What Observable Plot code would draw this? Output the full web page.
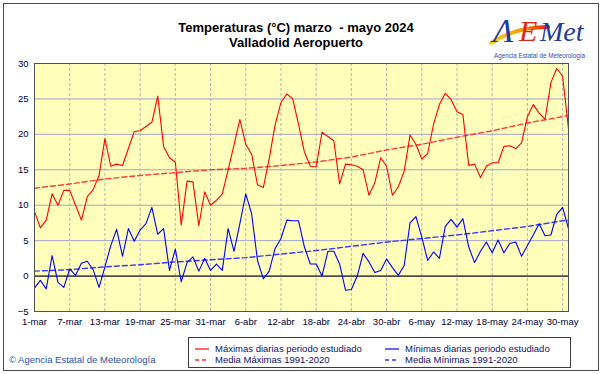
<!DOCTYPE html>
<html>
<head>
<meta charset="utf-8">
<script src="https://cdn.jsdelivr.net/npm/d3@7"></script>
<script src="https://cdn.jsdelivr.net/npm/@observablehq/plot@0.6"></script>
<style>
  html, body { margin: 0; padding: 0; background: #fff; }
  #wrap { position: relative; width: 601px; height: 374px; background: #fff; overflow: hidden; font-family: "Liberation Sans", Arial, sans-serif; }
  #frame { position: absolute; left: 3px; top: 3px; width: 594px; height: 366px; border: 1px solid #4a4a4a; }
  #chart { position: absolute; left: 0; top: 0; }
  #title { position: absolute; left: 0; top: 20px; width: 592px; text-align: center; font-weight: bold; font-size: 13px; line-height: 15px; color: #000; }
  #logo { position: absolute; left: 486px; top: 4px; }
  #legend { position: absolute; left: 188px; top: 337px; width: 381px; height: 29px; border: 1px solid #3a3a3a; background: #fff; }
  .li { position: absolute; font-size: 9.5px; color: #10106a; white-space: nowrap; line-height: 11px; }
  .li svg { position: absolute; left: -20px; top: 2px; }
  #caption { position: absolute; left: 9px; top: 354px; font-size: 9.5px; color: #2c4fa8; white-space: nowrap; }
</style>
</head>
<body>
<div id="wrap">
  <div id="frame"></div>
  <div id="chart"></div>
  <div id="title">Temperaturas (°C) marzo&nbsp; - mayo 2024<br>Valladolid Aeropuerto</div>
  <svg id="logo" width="110" height="58" viewBox="0 0 110 58">
    <defs>
      <linearGradient id="sw" x1="0" x2="1" y1="0" y2="0">
        <stop offset="0" stop-color="#f7d020"/>
        <stop offset="0.55" stop-color="#f5a000"/>
        <stop offset="1" stop-color="#e02010"/>
      </linearGradient>
    </defs>
    <path d="M5 39 C 20 29, 40 23, 62 23" fill="none" stroke="url(#sw)" stroke-width="4" stroke-linecap="round"/>
    <text x="7" y="38" font-family="Liberation Serif, serif" font-style="italic" font-size="34" fill="#1f3c9c">Λ</text>
    <text x="33" y="37" font-family="Liberation Serif, serif" font-style="italic" font-size="30" fill="#e02418">E</text>
    <text x="54" y="37" font-family="Liberation Serif, serif" font-style="italic" font-size="28" fill="#1f3c9c">Met</text>
    <text x="8" y="54" font-family="Liberation Sans, Arial" font-size="6.3" fill="#2c4fa8">Agencia Estatal de Meteorología</text>
  </svg>
  <div id="legend">
    <div class="li" style="left:26px; top:5px;"><svg width="16" height="8"><line x1="0" y1="4" x2="14" y2="4" stroke="#ff0000" stroke-width="1.2"/></svg>Máximas diarias periodo estudiado</div>
    <div class="li" style="left:216px; top:5px;"><svg width="16" height="8"><line x1="0" y1="4" x2="14" y2="4" stroke="#0000ff" stroke-width="1.2"/></svg>Mínimas diarias periodo estudiado</div>
    <div class="li" style="left:26px; top:16px;"><svg width="16" height="8"><line x1="0" y1="4" x2="14" y2="4" stroke="#ff3030" stroke-width="1.4" stroke-dasharray="4,3"/></svg>Media Máximas 1991-2020</div>
    <div class="li" style="left:216px; top:16px;"><svg width="16" height="8"><line x1="0" y1="4" x2="14" y2="4" stroke="#3030ff" stroke-width="1.4" stroke-dasharray="4,3"/></svg>Media Mínimas 1991-2020</div>
  </div>
  <div id="caption">© Agencia Estatal de Meteorología</div>
</div>
<script>
// Daily maximum temperatures, 1 March .. 31 May 2024 (°C)
const tmax = [9.1, 6.8, 7.9, 11.6, 10.0, 12.1, 12.1, 10.0, 7.9, 11.2,
  12.2, 14.2, 19.4, 15.5, 15.8, 15.6, 18.0, 20.4, 20.5, 21.1,
  21.7, 25.4, 18.3, 16.7, 16.1, 7.2, 13.4, 13.3, 7.1, 11.9,
  10.0, 10.7, 11.6, 15.0, 18.5, 22.1, 18.6, 17.2, 12.9, 12.5,
  16.6, 21.3, 24.5, 25.7, 25.0, 21.4, 17.5, 15.5, 15.4, 20.3,
  19.7, 19.1, 13.0, 15.8, 15.7, 15.5, 15.0, 11.4, 13.2, 16.7,
  15.5, 11.4, 12.6, 14.8, 19.9, 18.6, 16.5, 17.3, 21.4, 24.2,
  25.8, 24.9, 23.2, 22.8, 15.6, 15.8, 13.9, 15.5, 16.0, 16.0,
  18.3, 18.4, 18.0, 18.8, 22.5, 24.2, 23.0, 22.1, 27.3, 29.3,
  28.2, 20.8];
// Daily minimum temperatures (°C)
const tmin = [-1.7, -0.6, -1.8, 2.9, -0.9, -1.6, 1.0, 0.1, 1.8, 2.1,
  0.9, -1.6, 1.3, 4.3, 6.6, 2.8, 6.7, 4.9, 6.5, 7.4,
  9.7, 5.9, 6.7, 0.8, 3.8, -0.8, 1.9, 2.7, 0.7, 2.5,
  0.8, 1.7, 0.8, 6.7, 3.5, 7.4, 11.6, 8.8, 2.2, -0.4,
  0.7, 3.9, 5.3, 7.9, 7.8, 7.8, 4.1, 1.7, 1.7, 0.0,
  3.5, 3.5, 1.7, -2.0, -1.9, 0.0, 3.2, 2.0, 0.5, 0.8,
  2.4, 1.2, 0.1, 1.5, 7.5, 8.4, 5.5, 2.2, 3.4, 2.5,
  7.0, 8.0, 6.9, 8.1, 4.1, 1.9, 3.5, 4.8, 3.3, 5.1,
  3.3, 4.6, 4.8, 2.8, 4.3, 5.8, 7.4, 5.7, 5.8, 8.7,
  9.7, 6.7];
// 1991-2020 normals read at these day offsets from 1 March
const normDays = [0, 6, 12, 18, 24, 30, 36, 42, 48, 54, 60, 66, 72, 78, 84, 90, 91];
const normMax = [12.4, 13.0, 13.7, 14.2, 14.6, 15.0, 15.2, 15.6, 16.1, 16.8, 17.8, 18.6, 19.6, 20.5, 21.6, 22.5, 22.7];
const normMin = [0.7, 0.9, 1.3, 1.6, 2.0, 2.3, 2.6, 3.1, 3.6, 4.2, 4.8, 5.3, 5.8, 6.4, 7.0, 7.8, 7.9];
// Axis ticks
const xTickDays = [0, 6, 12, 18, 24, 30, 36, 42, 48, 54, 60, 66, 72, 78, 84, 90];
const xTickLabels = ["1-mar", "7-mar", "13-mar", "19-mar", "25-mar", "31-mar", "6-abr", "12-abr", "18-abr", "24-abr", "30-abr", "6-may", "12-may", "18-may", "24-may", "30-may"];
const yTicks = [-5, 0, 5, 10, 15, 20, 25, 30];

const daily = tmax.map((v, i) => ({day: i, max: v, min: tmin[i]}));
const normals = normDays.map((d, i) => ({day: d, max: normMax[i], min: normMin[i]}));

const chart = Plot.plot({
  width: 601,
  height: 335,
  marginLeft: 34,
  marginRight: 33,
  marginTop: 63,
  marginBottom: 24,
  style: {fontFamily: "Liberation Sans, Arial, sans-serif", fontSize: "9.5px", background: "transparent", color: "#000033", overflow: "visible"},
  x: {domain: [0, 91], label: null},
  y: {domain: [-5, 30], label: null},
  marks: [
    Plot.frame({fill: "#ffffbb", stroke: "none"}),
    Plot.gridY(yTicks, {stroke: "#a4a4cc", strokeOpacity: 1, strokeWidth: 1}),
    Plot.gridX(xTickDays, {stroke: "#b4b4b4", strokeOpacity: 1, strokeDasharray: "3,2"}),
    Plot.ruleY([0], {stroke: "#202020", strokeWidth: 1.2}),
    Plot.line(normals, {x: "day", y: "max", stroke: "#ff3a3a", strokeWidth: 1.4, strokeDasharray: "5,3"}),
    Plot.line(normals, {x: "day", y: "min", stroke: "#3a3aff", strokeWidth: 1.4, strokeDasharray: "5,3"}),
    Plot.line(daily, {x: "day", y: "max", stroke: "#ff0000", strokeWidth: 1.1}),
    Plot.line(daily, {x: "day", y: "min", stroke: "#0000ff", strokeWidth: 1.1}),
    Plot.frame({stroke: "#505050", strokeWidth: 1}),
    Plot.axisX(xTickDays, {label: null, tickSize: 0, tickPadding: 7, tickFormat: d => xTickLabels[xTickDays.indexOf(d)], fill: "#000033"}),
    Plot.axisY(yTicks, {label: null, tickSize: 0, tickPadding: 6, fill: "#000033"})
  ]
});
document.getElementById("chart").appendChild(chart);
</script>
</body>
</html>
